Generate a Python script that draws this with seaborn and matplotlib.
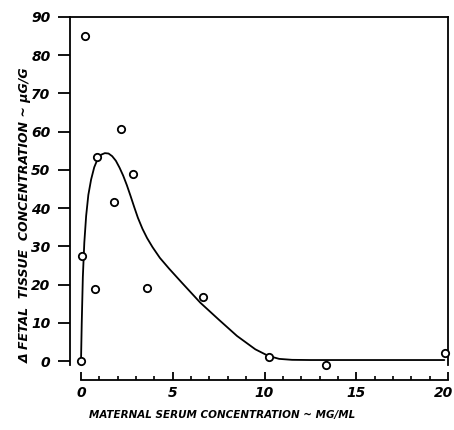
import pandas as pd
import matplotlib
matplotlib.use('Agg')
import matplotlib.pyplot as plt
import matplotlib.transforms as mtransforms
import seaborn as sns
from matplotlib.ticker import MultipleLocator

# measured points: maternal serum (mg/ml) vs fetal tissue (ug/g)
serum_conc = [0.0, 0.04, 0.22, 0.76, 0.85, 1.8, 2.2, 2.85, 3.6, 6.65, 10.25, 13.35, 19.85]
tissue_conc = [0.0, 27.5, 85.0, 19.0, 53.5, 41.5, 60.8, 49.0, 19.2, 16.9, 1.1, -0.9, 2.2]

# hand drawn curve through the points
curve_x = [0.0, 0.04, 0.1, 0.18, 0.28, 0.4, 0.55, 0.72, 0.9, 1.1, 1.3, 1.5, 1.7, 1.9,
           2.1, 2.3, 2.5, 2.7, 2.9, 3.1, 3.35, 3.6, 3.9, 4.3, 4.8, 5.5, 6.5, 7.5, 8.5,
           9.5, 10.2, 10.8, 11.5, 12.5, 14.0, 16.0, 18.0, 19.8]
curve_y = [0.0, 10.0, 22.0, 31.0, 38.0, 43.5, 47.5, 50.7, 52.8, 54.0, 54.4, 54.3, 53.6, 52.4,
           50.6, 48.5, 46.0, 43.2, 40.3, 37.5, 34.6, 32.2, 29.8, 27.0, 24.2, 20.5, 15.3, 10.9, 6.6,
           3.1, 1.4, 0.6, 0.35, 0.3, 0.3, 0.3, 0.3, 0.3]

points = pd.DataFrame({'serum': serum_conc, 'tissue': tissue_conc})
curve = pd.DataFrame({'serum': curve_x, 'tissue': curve_y})

sns.set_style('ticks')
plt.rcParams['font.family'] = ['DejaVu Sans']
plt.rcParams['text.color'] = 'black'
plt.rcParams['xtick.color'] = 'black'
plt.rcParams['ytick.color'] = 'black'

fig = plt.figure(figsize=(4.54, 4.30), dpi=100)
ax = fig.add_axes([70 / 454, 1 - 365 / 430, 378 / 454, 348 / 430])

sns.lineplot(data=curve, x='serum', y='tissue', sort=False, color='black', linewidth=1.3, ax=ax)
sns.scatterplot(data=points, x='serum', y='tissue', s=28, facecolor='white',
                edgecolor='black', linewidth=1.3, zorder=3, clip_on=False, ax=ax)

ax.set_xlim(-0.6, 20)
ax.set_ylim(-1, 90)

for side in ['top', 'left', 'right']:
    ax.spines[side].set_linewidth(1.3)
    ax.spines[side].set_color('black')
ax.spines['bottom'].set_position(('outward', 11))
ax.spines['bottom'].set_bounds(0, 20)
ax.spines['bottom'].set_linewidth(1.3)
ax.spines['bottom'].set_color('black')

ax.xaxis.set_major_locator(MultipleLocator(5))
ax.xaxis.set_minor_locator(MultipleLocator(1))
ax.yaxis.set_major_locator(MultipleLocator(10))
ax.tick_params(axis='x', which='major', direction='in', length=6, width=1.3, pad=4)
ax.tick_params(axis='x', which='minor', direction='in', length=3, width=1.2)
ax.tick_params(axis='y', which='major', direction='out', length=9, width=1.3, pad=5)

tick_font = dict(fontsize=10, fontstyle='italic', fontweight='bold', color='black')
ax.set_xticks([0, 5, 10, 15, 20])
ax.set_xticklabels(['0', '5', '10', '15', '20'], **tick_font)
ax.set_yticks(list(range(0, 100, 10)))
ax.set_yticklabels([str(v) for v in range(0, 100, 10)], **tick_font)

# pull the last x label a little inside the figure
last = ax.get_xticklabels()[-1]
last.set_transform(last.get_transform() + mtransforms.ScaledTranslation(-4 / 100, 0, fig.dpi_scale_trans))

ax.set_xlabel('')
ax.set_ylabel('')
fig.text(222 / 454, 1 - 415 / 430, 'MATERNAL SERUM CONCENTRATION ~ MG/ML',
         ha='center', va='center', fontsize=7.5, fontstyle='italic', fontweight='bold')
fig.text(25 / 454, 1 - 215 / 430, 'Δ FETAL  TISSUE  CONCENTRATION ~ μG/G',
         ha='center', va='center', rotation=90, fontsize=9, fontstyle='italic', fontweight='bold')

fig.savefig('out.png', dpi=100)
